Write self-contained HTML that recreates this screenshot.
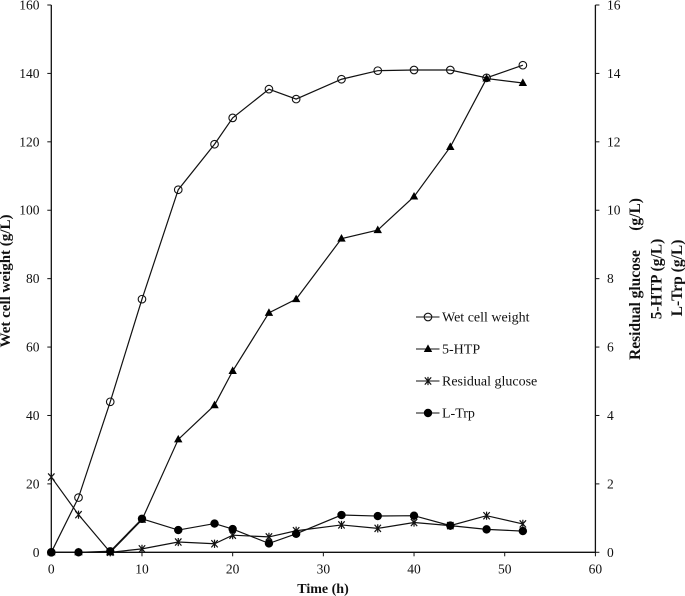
<!DOCTYPE html>
<html lang="en">
<head>
<meta charset="utf-8">
<title>Fermentation time course</title>
<style>
html,body{margin:0;padding:0;background:#fff;width:685px;height:596px;overflow:hidden}
svg{display:block;filter:blur(0.35px)}
text{font-family:"Liberation Serif",serif;fill:#111}
</style>
</head>
<body>
<svg id="chart" xmlns="http://www.w3.org/2000/svg" width="685" height="596" viewBox="0 0 685 596"></svg>
<script>
const times = [0, 3, 6.5, 10, 14, 18, 20, 24, 27, 32, 36, 40, 44, 48, 52];
const wetCellWeight = [0, 16, 44, 74, 106, 119.3, 127, 135.4, 132.5, 138.3, 140.8, 141, 141, 138.7, 142.4];
const fiveHtp = [0, 0, 0, 0.95, 3.3, 4.3, 5.3, 7.0, 7.4, 9.17, 9.42, 10.4, 11.85, 13.85, 13.72];
const residualGlucose = [2.2, 1.1, 0, 0.1, 0.3, 0.25, 0.5, 0.45, 0.63, 0.8, 0.7, 0.87, 0.78, 1.07, 0.83];
const lTrp = [0, 0, 0.03, 0.98, 0.65, 0.84, 0.68, 0.26, 0.54, 1.09, 1.06, 1.07, 0.78, 0.67, 0.62];
const xTicks = [0, 10, 20, 30, 40, 50, 60];
const leftTicks = [0, 20, 40, 60, 80, 100, 120, 140, 160];
const rightTicks = [0, 2, 4, 6, 8, 10, 12, 14, 16];
const legendLabels = ["Wet cell weight", "5-HTP", "Residual glucose", "L-Trp"];

const svg = document.getElementById('chart');
const NS = 'http://www.w3.org/2000/svg';
const ink = '#111';
const xScale = t => 51.3 + t * (595.4 - 51.3) / 60;
const yLeft = v => 552.3 - v * (552.3 - 5) / 160;
const yRight = v => 552.3 - v * (552.3 - 5) / 16;

function make(tag, attrs, parent) {
  const el = document.createElementNS(NS, tag);
  for (const k in attrs) el.setAttribute(k, attrs[k]);
  (parent || svg).appendChild(el);
  return el;
}
function group(name) {
  const g = make('g', {});
  
  
  return g;
}
function label(parent, str, x, y, anchor, size, bold, rot) {
  const t = make('text', {x: x, y: y, 'text-anchor': anchor, 'font-size': size}, parent);
  if (bold) t.setAttribute('font-weight', 'bold');
  if (rot) t.setAttribute('transform', 'rotate(-90 ' + x + ' ' + y + ')');
  t.style.whiteSpace = 'pre';
  t.textContent = str;
  return t;
}
function circleMark(p, x, y) {
  make('circle', {cx: x, cy: y, r: 3.8, fill: 'none', stroke: ink, 'stroke-width': 1.1}, p);
}
function triMark(p, x, y) {
  make('path', {d: 'M' + x + ' ' + (y - 4.6) + 'L' + (x + 4.2) + ' ' + (y + 3) + 'L' + (x - 4.2) + ' ' + (y + 3) + 'Z', fill: '#000'}, p);
}
function starMark(p, x, y) {
  const rx = 3.2, ry = 3.6;
  make('path', {d: 'M' + (x - rx) + ' ' + (y - ry) + 'L' + (x + rx) + ' ' + (y + ry) + 'M' + (x - rx) + ' ' + (y + ry) + 'L' + (x + rx) + ' ' + (y - ry) + 'M' + x + ' ' + (y - ry - 0.5) + 'L' + x + ' ' + (y + ry + 0.5), fill: 'none', stroke: ink, 'stroke-width': 1.2}, p);
}
function dotMark(p, x, y) {
  make('circle', {cx: x, cy: y, r: 4.2, fill: '#000'}, p);
}
function linePath(pts) {
  return pts.map((q, i) => (i ? 'L' : 'M') + q[0].toFixed(2) + ' ' + q[1].toFixed(2)).join('');
}
function drawSeries(name, values, yFn, mark) {
  const g = group(name);
  const pts = values.map((v, i) => [xScale(times[i]), yFn(v)]);
  make('path', {d: linePath(pts), fill: 'none', stroke: ink, 'stroke-width': 1.2}, g);
  pts.forEach(q => mark(g, q[0], q[1]));
}

/* axes */
const axes = group('axes');
const x0 = xScale(0), x60 = xScale(60), y0 = yLeft(0), yTop = yLeft(160);
make('path', {d: 'M' + x0 + ' ' + yTop + 'V' + y0 + 'H' + x60 + 'V' + yTop, fill: 'none', stroke: ink, 'stroke-width': 1.3}, axes);

const xAxis = group('x-axis-ticks');
xTicks.forEach(t => {
  const x = xScale(t);
  make('line', {x1: x, x2: x, y1: y0, y2: y0 + 4, stroke: ink, 'stroke-width': 1}, xAxis);
  label(xAxis, String(t), x, 573.5, 'middle', 13.5);
});
const lAxis = group('left-y-axis-ticks');
leftTicks.forEach(v => {
  const y = yLeft(v);
  make('line', {x1: x0 - 4, x2: x0, y1: y, y2: y, stroke: ink, 'stroke-width': 1}, lAxis);
  label(lAxis, String(v), 39.5, y + 4.5, 'end', 13.5);
});
const rAxis = group('right-y-axis-ticks');
rightTicks.forEach(v => {
  const y = yRight(v);
  make('line', {x1: x60, x2: x60 + 4, y1: y, y2: y, stroke: ink, 'stroke-width': 1}, rAxis);
  label(rAxis, String(v), 607, y + 4.5, 'start', 13.5);
});

/* series */
drawSeries('series-wet-cell-weight', wetCellWeight, yLeft, circleMark);
drawSeries('series-5-htp', fiveHtp, yRight, triMark);
drawSeries('series-residual-glucose', residualGlucose, yRight, starMark);
drawSeries('series-l-trp', lTrp, yRight, dotMark);

/* legend */
const legendMarks = [circleMark, triMark, starMark, dotMark];
const legendNames = ['legend-wet-cell-weight', 'legend-5-htp', 'legend-residual-glucose', 'legend-l-trp'];
legendLabels.forEach((s, i) => {
  const g = group(legendNames[i]);
  const y = 317 + i * 32;
  make('line', {x1: 416, x2: 439.5, y1: y, y2: y, stroke: ink, 'stroke-width': 1.1}, g);
  legendMarks[i](g, 428, y);
  label(g, s, 442, y + 4.5, 'start', 14);
});

/* axis titles */
const xt = label(svg, 'Time (h)', 323, 593, 'middle', 14, true);


const yt = label(svg, 'Wet cell weight (g/L)', 10, 281, 'middle', 15, true, true);


const rt1 = label(svg, 'Residual glucose     (g/L)', 640, 279, 'middle', 15.5, true, true);


const rt2 = label(svg, '5-HTP (g/L)', 661.5, 279, 'middle', 15.5, true, true);


const rt3 = label(svg, 'L-Trp (g/L)', 682, 278, 'middle', 15.5, true, true);


</script>
</body>
</html>
